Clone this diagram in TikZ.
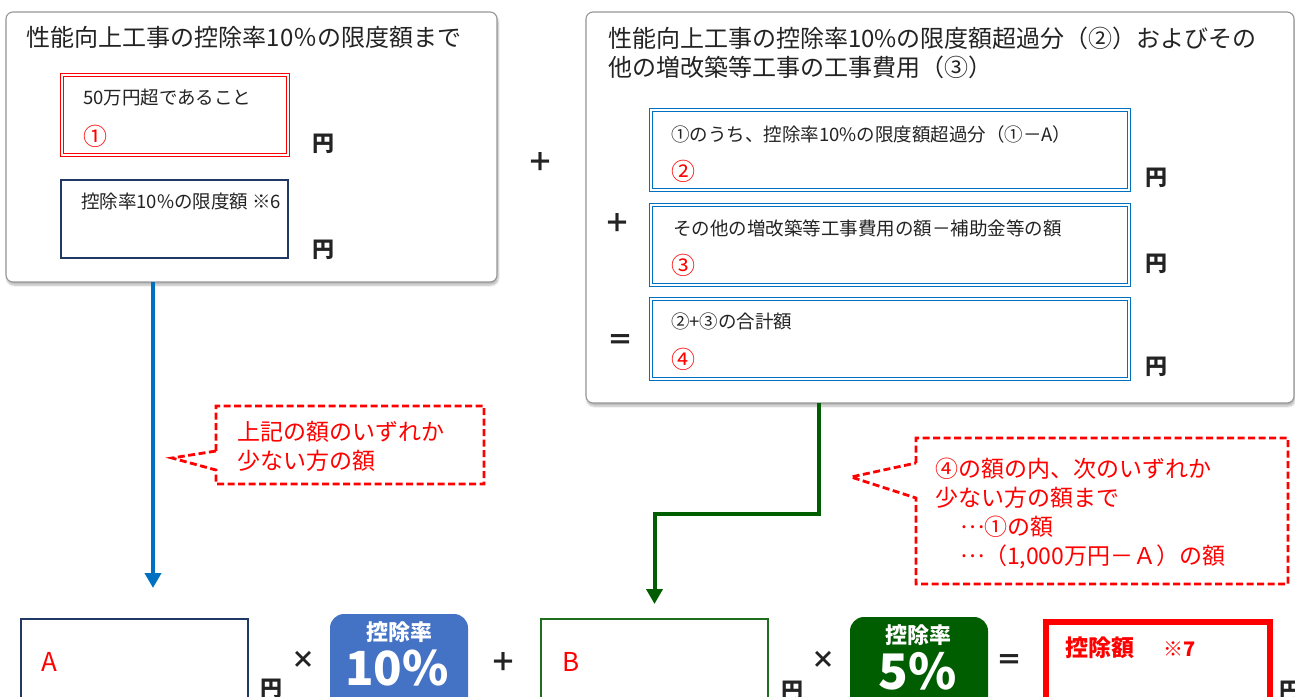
\documentclass[tikz,border=0pt]{standalone}
\usepackage{fontspec}
\setmainfont{Noto Sans CJK JP}
\usetikzlibrary{arrows.meta,shadows.blur,calc}
\definecolor{navy}{RGB}{31,56,100}
\definecolor{arrowblue}{RGB}{0,112,192}
\definecolor{boxblue}{RGB}{68,114,196}
\definecolor{dkgreen}{RGB}{0,94,0}
\definecolor{bgreen}{RGB}{30,110,30}
\definecolor{panelgray}{RGB}{150,150,150}
\definecolor{txt}{RGB}{35,35,35}
\definecolor{lblue}{RGB}{0,112,192}
\newcommand\myfs[1]{\fontsize{#1}{#1}\selectfont}
\newcommand\mydots{\makebox[1em][c]{\raisebox{0.3em}{…}}}
\begin{document}
\begin{tikzpicture}[x=1pt,y=-1pt,
  every node/.style={inner sep=0pt,outer sep=0pt},
  panel/.style={draw=panelgray,line width=1.1pt,rounded corners=7pt,fill=white,anchor=north west,
    blur shadow={shadow xshift=1pt,shadow yshift=-3pt,shadow opacity=30,shadow blur steps=6}},
  redbox/.style={draw=red,line width=0.8pt,double=white,double distance=1.6pt,anchor=north west},
  bluebox/.style={draw=lblue,line width=0.8pt,double=white,double distance=1.6pt,anchor=north west},
  navybox/.style={draw=navy,line width=2pt,anchor=north west},
  tx/.style={anchor=base west,text=txt},
  boxtx/.style={tx,font=\myfs{18.5}},
  circ/.style={anchor=base west,text=red,font=\myfs{24}},
  yen/.style={anchor=base west,text=txt,font=\bfseries\myfs{22}},
  op/.style={anchor=center,text=txt,font=\bfseries\myfs{26}},
  calltx/.style={anchor=base west,text=red,font=\myfs{23}},
  callout/.style={draw=red,line width=2.8pt,dash pattern=on 7pt off 3.5pt},
  rate/.style={anchor=north west,rounded corners=14pt,minimum width=138pt,minimum height=110pt},
  ratetx/.style={anchor=base,text=white,font=\bfseries\myfs{22}},
  ratebig/.style={anchor=base,text=white,font=\bfseries\myfs{47}},
  arr/.style={line width=4pt,-{Triangle[length=15pt,width=16pt]}}
]
\useasboundingbox (0,0) rectangle (1295,696);
\clip (0,0) rectangle (1295,696);

% panels
\node[panel,minimum width=491pt,minimum height=270pt] (lp) at (6,12) {};
\node[panel,minimum width=708pt,minimum height=391pt] (rp) at (586,12) {};

% left panel content
\node[tx,font=\myfs{24}] (lt) at (27,46) {性能向上工事の控除率10％の限度額まで};
\node[redbox,minimum width=226pt,minimum height=80pt] (b1) at (62,75) {};
\node[boxtx] (b1t) at (83,104) {50万円超であること};
\node[circ] (c1) at (83,145) {①};
\node[yen] (y1) at (312,151) {円};
\node[navybox,minimum width=227pt,minimum height=78pt] (b2) at (61,180) {};
\node[boxtx] (b2t) at (81,208) {控除率10\%の限度額 ※6};
\node[yen] (y2) at (312,257) {円};

\node[op] (plus0) at (540,162) {＋};

% right panel content
\node[tx,font=\myfs{24}] (rt1) at (608,47) {性能向上工事の控除率10\%の限度額超過分（②）およびその};
\node[tx,font=\myfs{24}] (rt2) at (608,76) {他の増改築等工事の工事費用（③）};

\node[bluebox,minimum width=478pt,minimum height=80pt] (r1) at (651,110) {};
\node[boxtx] (r1t) at (671,141) {①のうち、控除率10\%の限度額超過分（①－A）};
\node[circ] (c2) at (671,180) {②};
\node[yen] (y3) at (1145,185) {円};

\node[op] (plus1) at (617,223) {＋};
\node[bluebox,minimum width=478pt,minimum height=80pt] (r2) at (651,205) {};
\node[boxtx] (r2t) at (673,235) {その他の増改築等工事費用の額－補助金等の額};
\node[circ] (c3) at (671,274) {③};
\node[yen] (y4) at (1145,271) {円};

\node[op] (eq1) at (620,342) {＝};
\node[bluebox,minimum width=478pt,minimum height=80pt] (r3) at (651,299) {};
\node[boxtx] (r3t) at (671,328) {②+③の合計額};
\node[circ] (c4) at (671,368) {④};
\node[yen] (y5) at (1145,374) {円};

% bottom row
\node[navybox,line width=2.4pt,minimum width=227pt,minimum height=100pt] (bA) at (21,619) {};
\node[anchor=base west,text=red,font=\myfs{26}] (lA) at (41,671) {A};
\node[yen] (y6) at (260,696) {円};
\node[op,font=\bfseries\myfs{24}] (x1) at (303.5,660) {×};
\node[rate,fill=boxblue] (k1) at (330,614) {};
\node[ratetx] (k1a) at (399,640) {控除率};
\node[ratebig] (k1b) at (397,685) {10\%};
\node[op] (plus2) at (503,662) {＋};
\node[draw=bgreen,line width=1.6pt,anchor=north west,minimum width=227pt,minimum height=100pt] (bB) at (541,619) {};
\node[anchor=base west,text=red,font=\myfs{26}] (lB) at (562,671) {B};
\node[yen] (y7) at (781,698) {円};
\node[op,font=\bfseries\myfs{24}] (x2) at (823.5,660) {×};
\node[rate,fill=dkgreen] (k2) at (850,617) {};
\node[ratetx] (k2a) at (918.5,643) {控除率};
\node[ratebig,font=\bfseries\myfs{49}] (k2b) at (917.5,689) {5\%};
\node[op] (eq2) at (1009.5,662) {＝};
\node[draw=red,line width=6pt,anchor=north west,minimum width=224pt,minimum height=100pt] (bR) at (1046,622) {};
\node[anchor=base west,text=red,font=\bfseries\myfs{23}] (kR) at (1065,656) {控除額};
\node[anchor=base west,text=red,font=\bfseries\myfs{20}] (kR7) at (1163,656) {※7};
\node[yen] (y8) at (1279,698) {円};

% connectors
\coordinate (a1) at (153,588);
\draw[arr,draw=arrowblue] (lp.south -| a1) -- (a1);
\coordinate (gs) at (819,403);
\coordinate (g1) at (654.5,604);
\coordinate (gm) at (819,514);
\draw[arr,draw=dkgreen,line width=4pt] (rp.south -| gs) -- (gm) -| (g1);

% callout 1
\node[anchor=north west,minimum width=268pt,minimum height=78pt] (cb1) at (216,406) {};
\draw[callout] ($(cb1.north west)+(0,45)$) -- (cb1.north west) -- (cb1.north east) -- (cb1.south east)
  -- (cb1.south west) -- ($(cb1.north west)+(0,64)$) -- (172,458) -- cycle;
\node[calltx] (ct1) at (237,440) {上記の額のいずれか};
\node[calltx] (ct2) at (237,469) {少ない方の額};

% callout 2
\node[anchor=north west,minimum width=372pt,minimum height=146pt] (cb2) at (916,438) {};
\draw[callout] ($(cb2.north west)+(0,25)$) -- (cb2.north west) -- (cb2.north east) -- (cb2.south east)
  -- (cb2.south west) -- ($(cb2.north west)+(0,60)$) -- (851,477) -- cycle;
\node[calltx] (ct3) at (935,477) {④の額の内、次のいずれか};
\node[calltx] (ct4) at (935,506) {少ない方の額まで};
\node[calltx] (ct5) at (961,535) {\mydots ①の額};
\node[calltx] (ct6) at (961,564) {\mydots （1,000万円－Ａ）の額};
\end{tikzpicture}
\end{document}
